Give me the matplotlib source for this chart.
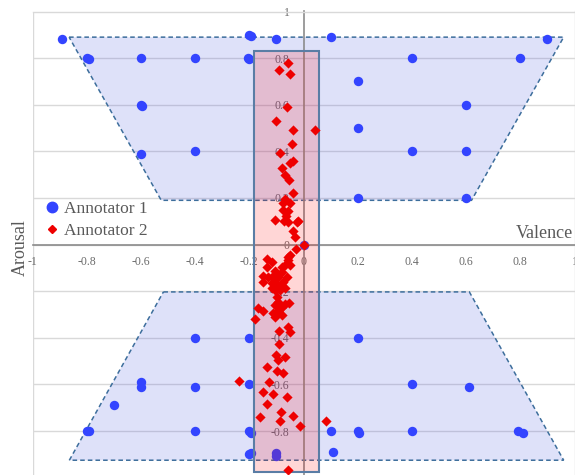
import numpy as np
import matplotlib
matplotlib.use("Agg")
import matplotlib.pyplot as plt
from matplotlib.patches import Polygon, Rectangle
from matplotlib.lines import Line2D

# ---------------- data ----------------
annot1_x = [-0.89, -0.2, -0.195, -0.1, 0.1, 0.9,
            -0.8, -0.79, -0.6, -0.4, -0.205, -0.2, 0.4, 0.8,
            0.2,
            -0.6, -0.595, 0.6,
            0.2,
            -0.6, -0.4, 0.4, 0.6,
            0.2, 0.6,
            0.0,
            -0.4, -0.2, 0.2,
            -0.6, -0.6, -0.4, -0.2, 0.4, 0.61,
            -0.7,
            -0.8, -0.79, -0.4, -0.2, -0.195, 0.1, 0.2, 0.205, 0.4, 0.79, 0.81,
            -0.2, -0.195, -0.1, -0.1, 0.11]
annot1_y = [0.88, 0.9, 0.895, 0.88, 0.89, 0.88,
            0.8, 0.795, 0.8, 0.8, 0.8, 0.795, 0.8, 0.8,
            0.7,
            0.6, 0.595, 0.6,
            0.5,
            0.39, 0.4, 0.4, 0.4,
            0.2, 0.2,
            0.0,
            -0.4, -0.4, -0.4,
            -0.59, -0.61, -0.61, -0.6, -0.6, -0.61,
            -0.69,
            -0.8, -0.8, -0.8, -0.8, -0.81, -0.8, -0.8, -0.81, -0.8, -0.8, -0.807,
            -0.9, -0.895, -0.895, -0.905, -0.89]

annot2_x = [-0.056, -0.089, -0.05, -0.061, -0.101, -0.04, 0.044,
            -0.041, -0.087, -0.05, -0.038, -0.08, -0.068, -0.053, -0.038, -0.068,
            -0.077, -0.05, -0.074, -0.056, -0.066, -0.105, -0.071, -0.056, -0.019,
            -0.025, -0.038, -0.031, 0.0,
            -0.028, -0.05, -0.056, -0.056, -0.136, -0.117, -0.068, -0.05, -0.08,
            -0.136, -0.105, -0.08, -0.148, -0.13, -0.117, -0.093, -0.099, -0.062,
            -0.148, -0.075, -0.117, -0.105, -0.087, -0.117, -0.068, -0.105, -0.087,
            -0.099, -0.093,
            -0.052, -0.068, -0.105, -0.08, -0.167, -0.148, -0.111, -0.093, -0.09,
            -0.08, -0.105, -0.179, -0.056, -0.05, -0.089,
            -0.089, -0.101, -0.068, -0.094, -0.136, -0.098, -0.077, -0.238, -0.128,
            -0.148, -0.111, -0.062, -0.136, -0.084, -0.038, -0.16, -0.087, 0.082,
            -0.013, -0.056]
annot2_y = [0.778, 0.747, 0.731, 0.59, 0.532, 0.492, 0.491,
            0.432, 0.392, 0.352, 0.36, 0.328, 0.299, 0.278, 0.223, 0.195,
            0.178, 0.178, 0.149, 0.142, 0.123, 0.106, 0.103, 0.099, 0.102,
            0.095, 0.06, 0.034, 0.0,
            -0.018, -0.044, -0.055, -0.066, -0.06, -0.073, -0.087, -0.087, -0.094,
            -0.094, -0.112, -0.116, -0.134, -0.137, -0.137, -0.137, -0.144, -0.14,
            -0.159, -0.159, -0.166, -0.166, -0.18, -0.187, -0.187, -0.194, -0.194,
            -0.223, -0.245,
            -0.249, -0.255, -0.259, -0.266, -0.273, -0.283, -0.294, -0.288, -0.28,
            -0.302, -0.309, -0.32, -0.352, -0.375, -0.37,
            -0.427, -0.475, -0.483, -0.495, -0.525, -0.543, -0.55, -0.584, -0.59,
            -0.634, -0.641, -0.655, -0.684, -0.717, -0.734, -0.741, -0.755, -0.755,
            -0.778, -0.967]

upper_region_x = [-0.865, 0.96, 0.62, -0.525]
upper_region_y = [0.89, 0.89, 0.19, 0.19]
lower_region_x = [-0.517, 0.612, 0.96, -0.864]
lower_region_y = [-0.203, -0.203, -0.925, -0.925]
band_x = [-0.183, 0.058]
band_y = [-0.976, 0.83]

ticks = [-1, -0.8, -0.6, -0.4, -0.2, 0, 0.2, 0.4, 0.6, 0.8, 1]
x_tick_labels = ["-1", "-0.8", "-0.6", "-0.4", "-0.2", "0", "0.2", "0.4", "0.6", "0.8", "1"]
y_tick_labels = ["", "-0.8", "-0.6", "-0.4", "-0.2", "0", "0.2", "0.4", "0.6", "0.8", "1"]

# ---------------- figure ----------------
plt.rcParams['font.family'] = ['Liberation Serif', 'DejaVu Serif']
W, H = 575, 475
fig = plt.figure(figsize=(W / 100, H / 100), dpi=100)
ax_left, ax_right, ax_top, ax_bottom = 32.5, 574.5, 11.5, 477.7
ax = fig.add_axes([ax_left / W, 1 - ax_bottom / H, (ax_right - ax_left) / W, (ax_bottom - ax_top) / H])
ax.set_xlim(-1, 1)
ax.set_ylim(-1, 1)

grid_c = '#d9d9d9'
ax.set_yticks(ticks)
ax.set_yticklabels(y_tick_labels)
ax.set_xticks(ticks)
ax.set_xticklabels(x_tick_labels)
ax.yaxis.grid(True, color=grid_c, lw=1.0, zorder=0)
ax.xaxis.grid(False)
ax.set_axisbelow(True)

for s in ['top', 'right']:
    ax.spines[s].set_color(grid_c)
    ax.spines[s].set_linewidth(1.0)
ax.spines['left'].set_position(('data', 0))
ax.spines['bottom'].set_position(('data', 0))
ax.spines['left'].set_color('#8c8c8c')
ax.spines['bottom'].set_color('#8c8c8c')
ax.spines['left'].set_linewidth(1.2)
ax.spines['bottom'].set_linewidth(1.2)
ax.axvline(-1, color=grid_c, lw=1.0, zorder=0)

ax.tick_params(axis='both', length=0, labelsize=8.5, labelcolor='#6b6b6b')
ax.tick_params(axis='y', pad=10)
ax.tick_params(axis='x', pad=8)

# regions
ax.add_patch(Polygon(list(zip(upper_region_x, upper_region_y)), closed=True,
                     facecolor=(0.25, 0.31, 0.88, 0.17), edgecolor='#3d6e9c',
                     lw=1.1, ls=(0, (3, 2)), zorder=1))
ax.add_patch(Polygon(list(zip(lower_region_x, lower_region_y)), closed=True,
                     facecolor=(0.25, 0.31, 0.88, 0.17), edgecolor='#3d6e9c',
                     lw=1.1, ls=(0, (3, 2)), zorder=1))

ax.scatter(annot1_x, annot1_y, s=46, marker='o', color='#3344ff', lw=0, zorder=2)

ax.add_patch(Rectangle((band_x[0], band_y[0]), band_x[1] - band_x[0], band_y[1] - band_y[0],
                       facecolor=(1, 0, 0, 0.16), edgecolor='#5a7da5', lw=1.5, zorder=3))

ax.scatter(annot2_x, annot2_y, s=27, marker='D', color='#ee0000', lw=0, zorder=4)

# axis titles
fig.text(573 / W, 1 - 233 / H, 'Valence', ha='right', va='center', fontsize=13, color='#595959')
fig.text(20 / W, 1 - 248 / H, 'Arousal', ha='center', va='center', rotation=90, fontsize=13, color='#595959')

# legend
handles = [Line2D([], [], marker='o', ls='none', color='#3344ff', markersize=7.5),
           Line2D([], [], marker='D', ls='none', color='#ee0000', markersize=4.5)]
fig.legend(handles, ['Annotator 1', 'Annotator 2'], loc='center left',
           bbox_to_anchor=(36 / W, 1 - 220 / H), frameon=False, fontsize=12.5,
           handlelength=0.8, handletextpad=0.3, labelspacing=0.35, borderpad=0,
           labelcolor='#595959')

fig.savefig('out.png', dpi=100)
